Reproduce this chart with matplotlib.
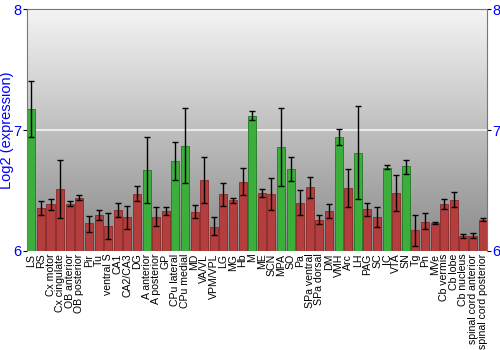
import numpy as np
import matplotlib
matplotlib.use("Agg")
from matplotlib import pyplot as plt

plt.rcParams['font.family'] = ['Liberation Sans', 'DejaVu Sans']

# Regions, mean log2 expression and error bar bounds
regions = ["LS", "RS", "Cx motor", "Cx cingulate", "OB anterior", "OB posterior",
           "Pir", "Tu", "ventral S", "CA1", "CA2/CA3", "DG", "A anterior",
           "A posterior", "GP", "CPu lateral", "CPu medial", "MD", "VA/VL",
           "VPM/VPL", "LG", "MG", "Hb", "M", "ME", "SCN", "MPA", "SO", "Pa",
           "SPa ventral", "SPa dorsal", "DM", "VMH", "Arc", "LH", "PAG", "SC",
           "IC", "VTA", "SN", "Tg", "Pn", "MVe", "Cb vermis", "Cb lobe",
           "Cb nucleus", "spinal cord anterior", "spinal cord posterior"]
values = [7.17, 6.355, 6.386, 6.51, 6.39, 6.44, 6.23, 6.30, 6.21, 6.34, 6.28,
          6.47, 6.67, 6.28, 6.33, 6.74, 6.87, 6.325, 6.59, 6.20, 6.47, 6.42,
          6.57, 7.12, 6.48, 6.47, 6.86, 6.68, 6.40, 6.53, 6.26, 6.33, 6.94,
          6.52, 6.81, 6.35, 6.28, 6.69, 6.48, 6.70, 6.17, 6.24, 6.23, 6.39,
          6.42, 6.12, 6.127, 6.256]
err_hi = [7.405, 6.41, 6.43, 6.75, 6.41, 6.46, 6.29, 6.34, 6.31, 6.40, 6.37,
          6.54, 6.94, 6.36, 6.36, 6.90, 7.18, 6.38, 6.78, 6.28, 6.56, 6.44,
          6.69, 7.16, 6.51, 6.60, 7.18, 6.78, 6.50, 6.61, 6.30, 6.39, 7.01,
          6.68, 7.20, 6.40, 6.36, 6.71, 6.63, 6.755, 6.30, 6.31, 6.24, 6.43,
          6.485, 6.14, 6.145, 6.27]
err_lo = [6.94, 6.30, 6.34, 6.27, 6.37, 6.42, 6.16, 6.26, 6.10, 6.28, 6.18,
          6.41, 6.40, 6.21, 6.30, 6.59, 6.56, 6.27, 6.40, 6.13, 6.37, 6.40,
          6.46, 7.08, 6.45, 6.34, 6.54, 6.58, 6.30, 6.44, 6.22, 6.27, 6.88,
          6.36, 6.43, 6.29, 6.20, 6.675, 6.33, 6.64, 6.04, 6.18, 6.22, 6.35,
          6.36, 6.105, 6.11, 6.245]
high = ["LS", "A anterior", "CPu lateral", "CPu medial", "M", "MPA", "SO",
        "VMH", "LH", "IC", "SN"]

fig = plt.figure(figsize=[5.0, 3.5], dpi=100)
ax = fig.add_axes([0.054, 0.283, 0.92, 0.691])

# gradient background, light at top
grad = np.linspace(0, 1, 256).reshape(-1, 1)
ax.imshow(grad, cmap=matplotlib.colors.LinearSegmentedColormap.from_list(
    "bg", ["#f4f4f4", "#8a8a8a"]), aspect="auto",
    extent=[-0.45, len(regions) - 0.55, 6, 8], zorder=0)
ax.axhline(7, color="#f4f4f4", linewidth=1.2, zorder=1)

x = np.arange(len(regions))
vals = np.array(values)
colors = ["#3cae3c" if r in high else "#b43d3d" for r in regions]
edges = ["#1f7a1f" if r in high else "#8a2727" for r in regions]
ax.bar(x, vals - 6, bottom=6, width=0.84, color=colors, edgecolor=edges,
       linewidth=0.6, zorder=2)
yerr = [vals - np.array(err_lo), np.array(err_hi) - vals]
ax.errorbar(x, vals, yerr=yerr, fmt="none", ecolor="black", elinewidth=1,
            capsize=2, capthick=1, zorder=3)

ax.set_xlim(-0.45, len(regions) - 0.55)
ax.set_ylim(6, 8)
ax.set_yticks([6, 7, 8])
ax.tick_params(axis="y", colors="black", labelcolor="blue", labelsize=10.5,
               length=3, left=True, right=True, labelleft=True, labelright=True,
               pad=1)
ax.set_xticks(x)
ax.set_xticklabels(regions, rotation=90, fontsize=7.6)
ax.tick_params(axis="x", length=0, pad=2)
ax.set_ylabel("Log2 (expression)", color="blue", fontsize=10.5)
ax.yaxis.set_label_coords(-0.029, 0.5)
for s in ["left", "right", "top"]:
    ax.spines[s].set_color("#777777")
ax.spines["bottom"].set_visible(False)

plt.savefig("out.png", dpi=100)
